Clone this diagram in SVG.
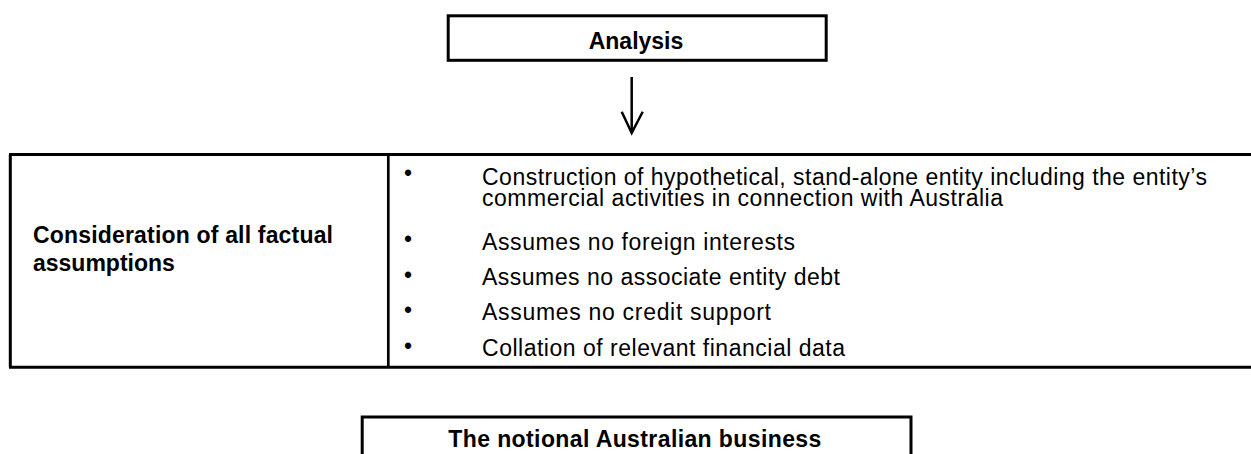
<svg xmlns="http://www.w3.org/2000/svg" width="1251" height="454" viewBox="0 0 1251 454">
<style>
.t{font-family:"Liberation Sans",Arial,sans-serif;font-size:23px;fill:#000}
.b{font-weight:bold}
.ln{stroke:#000;fill:none;stroke-width:3}
</style>
<rect width="1251" height="454" fill="#fff"/>
<g id="node-analysis">
<rect class="ln" x="448.2" y="15.8" width="378" height="44.5"/>
<text class="t b" x="636" y="49.3" text-anchor="middle">Analysis</text>
</g>
<g id="connectors">
<path d="M631.7,77 V132" stroke="#000" stroke-width="2.5" fill="none"/>
<path d="M621.7,111.7 L631.7,133 L642.7,111.7" stroke="#000" stroke-width="2.5" fill="none"/>
</g>
<g id="node-table">
<path class="ln" d="M9,154.5 H1251 M10.3,154.5 V367.2 M9,367.2 H1251"/>
<path d="M388.3,154.5 V367.2" stroke="#000" stroke-width="2.7"/>
<text class="t b" x="33" y="243.3" textLength="300" lengthAdjust="spacing">Consideration of all factual</text>
<text class="t b" x="33" y="270.7">assumptions</text>
<text class="t" x="404" y="181.3">•</text>
<text class="t" x="482" y="184.5" textLength="725" lengthAdjust="spacing">Construction of hypothetical, stand-alone entity including the entity’s</text>
<text class="t" x="482" y="205.5" textLength="521" lengthAdjust="spacing">commercial activities in connection with Australia</text>
<text class="t" x="404" y="247.3">•</text>
<text class="t" x="482" y="250" textLength="313" lengthAdjust="spacing">Assumes no foreign interests</text>
<text class="t" x="404" y="283">•</text>
<text class="t" x="482" y="285" textLength="358" lengthAdjust="spacing">Assumes no associate entity debt</text>
<text class="t" x="404" y="318">•</text>
<text class="t" x="482" y="320" textLength="289" lengthAdjust="spacing">Assumes no credit support</text>
<text class="t" x="404" y="354">•</text>
<text class="t" x="482" y="355.5" textLength="363" lengthAdjust="spacing">Collation of relevant financial data</text>
</g>
<g id="node-notional">
<path class="ln" d="M362.2,456 V417 H911 V456"/>
<text class="t b" x="448.3" y="447.3" textLength="373" lengthAdjust="spacing">The notional Australian business</text>
</g>
</svg>
